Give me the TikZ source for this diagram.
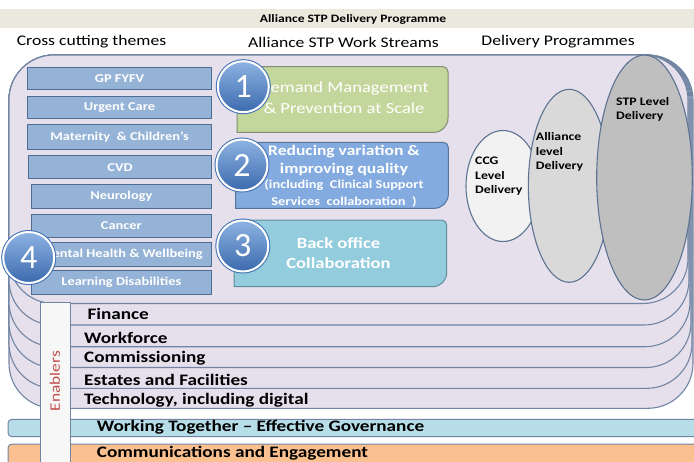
\documentclass[tikz,border=0pt]{standalone}
\usepackage{fontspec}
\setmainfont{Carlito}[FakeStretch=1.2]
\newfontfamily\numfont{Carlito}
\usetikzlibrary{shapes.geometric}
\definecolor{layerfill}{HTML}{E6E0EC}
\definecolor{layerline}{HTML}{7185A3}
\definecolor{headfill}{HTML}{EBE9DE}
\definecolor{themefill}{HTML}{95B3D7}
\definecolor{themeline}{HTML}{4F6D92}
\definecolor{greenfill}{HTML}{C3D69B}
\definecolor{greenline}{HTML}{7F8F70}
\definecolor{bluefill}{HTML}{84ABDF}
\definecolor{blueline}{HTML}{56759C}
\definecolor{cyanfill}{HTML}{93CDDD}
\definecolor{cyanline}{HTML}{5F8D9E}
\definecolor{ellline}{HTML}{5D7392}
\definecolor{wtfill}{HTML}{B7DEE8}
\definecolor{commfill}{HTML}{FAC090}
\definecolor{enabtext}{HTML}{C0504D}
\definecolor{circtop}{HTML}{8DB3E2}
\definecolor{circbot}{HTML}{3C6AAE}
\definecolor{circline}{HTML}{3F6FB0}
\begin{document}
\begin{tikzpicture}[x=1pt,y=-1pt,
  layer/.style={fill=layerfill, draw=layerline, line width=1.1pt, rounded corners=45},
  theme/.style={fill=themefill, draw=themeline, line width=1pt, anchor=north west, inner sep=0,
    text=white, font=\fontsize{12}{14}\selectfont\bfseries},
  txt/.style={inner sep=0},
  wstext/.style={inner sep=0, text=white},
  layertext/.style={inner sep=0, anchor=west, font=\fontsize{16}{18}\selectfont\bfseries},
  colhead/.style={inner sep=0, font=\fontsize{14.7}{17}\selectfont},
  elltext/.style={inner sep=0, anchor=west, font=\fontsize{11.5}{13}\selectfont\bfseries},
  num/.style={circle, minimum size=51, inner sep=0, top color=circtop, bottom color=circbot,
    draw=white, line width=2pt, preaction={draw=circline, line width=4pt},
    text=white, font=\numfont\fontsize{34}{36}\selectfont},
  deliv/.style={ellipse, draw=ellline, line width=1.1pt, inner sep=0}
]
\useasboundingbox (0,0) rectangle (694,461);
\fill[white] (0,0) rectangle (694,461);
% header
\fill[headfill] (0,9.3) rectangle (694,28.3);
\node[txt, font=\fontsize{11.3}{13}\selectfont\bfseries] (title) at (353,19) {Alliance STP Delivery Programme};
\node[colhead] (h1) at (91.5,42) {Cross cutting themes};
\node[colhead] (h2) at (343.5,42) {Alliance STP Work Streams};
\node[colhead] (h3) at (558,42) {Delivery Programmes};
% stacked layers
\draw[layer] (9,55) rectangle (693,408.3);
\draw[layer] (9,55) rectangle (692,388.3);
\draw[layer] (9,55) rectangle (691,367.5);
\draw[layer] (9,55) rectangle (690,346.7);
\draw[layer] (9,55) rectangle (689,325);
\draw[layer] (9,55) rectangle (688,303.5);
% theme boxes
\node[theme, minimum width=184, minimum height=22.6] (gp) at (27,66.7) {GP FYFV};
\node[theme, minimum width=184, minimum height=22.6] (urgent) at (27,95.7) {Urgent Care};
\node[theme, minimum width=184, minimum height=25] (mat) at (27,124.3) {Maternity \ \& Children's};
\node[theme, minimum width=183, minimum height=23.3] (cvd) at (28,155) {CVD};
\node[theme, minimum width=180.3, minimum height=23.7] (neuro) at (30.7,184) {Neurology};
\node[theme, minimum width=180.3, minimum height=23.3] (cancer) at (30.7,213.7) {Cancer};
\node[theme, minimum width=180.3, minimum height=23.7] (mental) at (30.7,242) {Mental Health \& Wellbeing};
\node[theme, minimum width=180.3, minimum height=23.7] (learn) at (30.7,270) {Learning Disabilities};
% work stream boxes
\filldraw[fill=greenfill, draw=greenline, line width=1pt] (237,66.7) -- (443,66.7) arc[start angle=-90, end angle=0, radius=5] -- (448,118.3) arc[start angle=0, end angle=90, radius=14] -- (237,132.3) -- cycle;
\filldraw[fill=bluefill, draw=blueline, line width=1pt] (235.7,142.3) -- (443.3,142.3) arc[start angle=-90, end angle=0, radius=5] -- (448.3,194.3) arc[start angle=0, end angle=90, radius=14] -- (235.7,208.3) -- cycle;
\filldraw[fill=cyanfill, draw=cyanline, line width=1pt] (234,220) -- (441.7,220) arc[start angle=-90, end angle=0, radius=5] -- (446.7,272.7) arc[start angle=0, end angle=90, radius=14] -- (234,286.7) -- cycle;
\node[wstext, font=\fontsize{15.5}{18}\selectfont] (ws1a) at (344,88) {Demand Management};
\node[wstext, font=\fontsize{15.5}{18}\selectfont] (ws1b) at (344,108) {\& Prevention at Scale};
\node[wstext, font=\fontsize{14.6}{17}\selectfont\bfseries] (ws2a) at (344,151.7) {Reducing variation \&};
\node[wstext, font=\fontsize{14.6}{17}\selectfont\bfseries] (ws2b) at (344,170) {improving quality};
\node[wstext, font=\fontsize{12}{14}\selectfont\bfseries] (ws2c) at (344,185.5) {(including \ Clinical Support};
\node[wstext, font=\fontsize{12}{14}\selectfont\bfseries] (ws2d) at (344,201.5) {Services \ collaboration \ )};
\node[wstext, font=\fontsize{15.5}{18}\selectfont\bfseries] (ws3a) at (338.5,243.3) {Back office};
\node[wstext, font=\fontsize{15.5}{18}\selectfont\bfseries] (ws3b) at (338.5,263.3) {Collaboration};
% delivery ellipses
\node[deliv, fill=black!5, minimum width=74, minimum height=111] (ccg) at (503,186) {};
\node[deliv, fill=black!15, minimum width=81.7, minimum height=193] (alliance) at (569.2,185.8) {};
\node[deliv, fill=black!25, minimum width=95.6, minimum height=245] (stp) at (644.5,177.5) {};
\node[elltext] (ccg1) at (475,160.7) {CCG};
\node[elltext] (ccg2) at (475,175.7) {Level};
\node[elltext] (ccg3) at (475,190.7) {Delivery};
\node[elltext] (al1) at (535.7,136.7) {Alliance};
\node[elltext] (al2) at (535.7,151.7) {level};
\node[elltext] (al3) at (535.7,166.7) {Delivery};
\node[elltext] (stp1) at (616,101.7) {STP Level};
\node[elltext] (stp2) at (616,116.7) {Delivery};
% numbered circles
\node[num] (c1) at (243.3,86.7) {1};
\node[num] (c2) at (242,165) {2};
\node[num] (c3) at (242.8,246) {3};
\node[num] (c4) at (28.7,257.5) {4};
% layer texts
\node[layertext] (fin) at (87.3,314) {Finance};
\node[layertext] (work) at (84,338.3) {Workforce};
\node[layertext] (comm) at (84,358.3) {Commissioning};
\node[layertext] (est) at (84,380) {Estates and Facilities};
\node[layertext] (tech) at (84,400) {Technology, including digital};
% bottom bars
\draw[fill=wtfill, draw=layerline, line width=1pt, rounded corners=4] (8,419.3) rectangle (702,436.7);
\draw[fill=commfill, draw=layerline, line width=1pt, rounded corners=4] (8,444) rectangle (702,470);
\node[layertext] (wt) at (96.7,427.5) {Working Together -- Effective Governance};
\node[layertext] (ce) at (96.7,453) {Communications and Engagement};
% enablers bar
\draw[fill=black!3, draw=layerline, line width=1pt] (40,302) rectangle (70,470);
\node[txt, rotate=90, text=enabtext, font=\fontsize{14.5}{17}\selectfont] (enab) at (55,381) {Enablers};
\end{tikzpicture}
\end{document}
